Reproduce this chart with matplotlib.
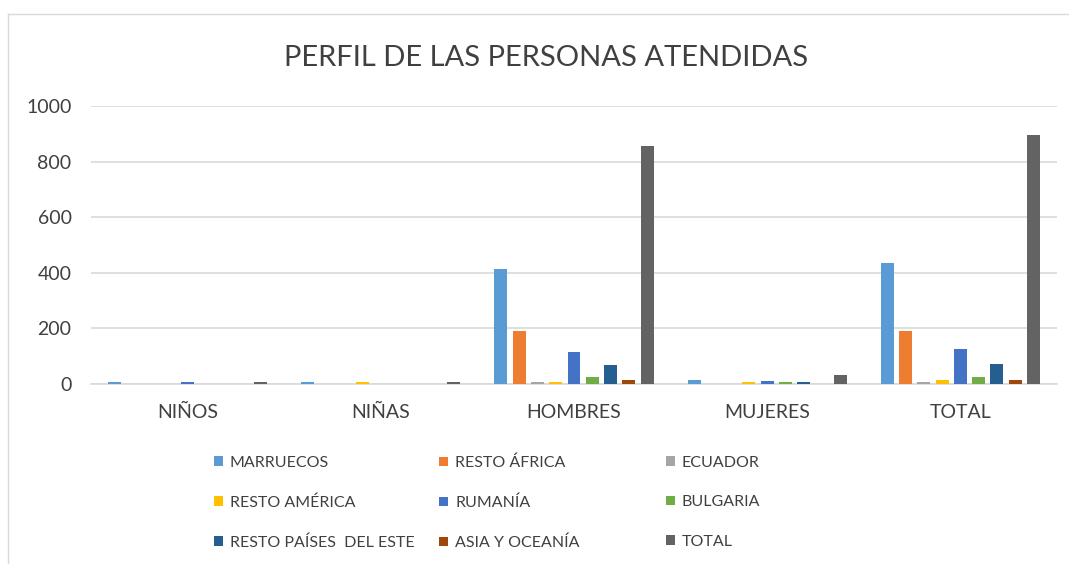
import matplotlib
matplotlib.use('Agg')
import matplotlib.pyplot as plt
from matplotlib.lines import Line2D
import numpy as np

plt.rcParams['font.family'] = ['Lato', 'DejaVu Sans']

categorias = ['NIÑOS', 'NIÑAS', 'HOMBRES', 'MUJERES', 'TOTAL']
series = ['MARRUECOS', 'RESTO ÁFRICA', 'ECUADOR', 'RESTO AMÉRICA', 'RUMANÍA',
          'BULGARIA', 'RESTO PAÍSES  DEL ESTE', 'ASIA Y OCEANÍA', 'TOTAL']

marruecos = [4, 4, 414, 12, 434]
resto_africa = [0, 0, 188, 0, 188]
ecuador = [0, 0, 5, 0, 5]
resto_america = [0, 4, 5, 6, 11]
rumania = [4, 0, 113, 10, 125]
bulgaria = [0, 0, 25, 6, 25]
resto_este = [0, 0, 65, 6, 71]
asia_oceania = [0, 0, 11, 0, 11]
total = [5, 5, 855, 32, 895]

valores = [marruecos, resto_africa, ecuador, resto_america, rumania,
           bulgaria, resto_este, asia_oceania, total]
colores = ['#5B9BD5', '#ED7D31', '#A5A5A5', '#FFC000', '#4472C4',
           '#70AD47', '#255E91', '#9E480E', '#636363']

fig = plt.figure(figsize=(10.69, 5.64), dpi=100)
ax = fig.add_axes([0.0851, 0.320, 0.9037, 0.492])

x = np.arange(len(categorias))
paso = 0.0945
ancho = 0.067
barras = []
for i, (v, c) in enumerate(zip(valores, colores)):
    b = ax.bar(x + (i - 4) * paso, v, ancho, color=c, zorder=3)
    barras.append(b)

ax.set_xlim(-0.5, len(categorias) - 0.5)
ax.set_ylim(0, 1000)
ax.set_yticks([0, 200, 400, 600, 800, 1000])
ax.yaxis.grid(True, color='#D9D9D9', linewidth=1.2, zorder=0)
ax.set_xticks(x)
ax.set_xticklabels(categorias)
ax.tick_params(axis='both', length=0, labelsize=14, labelcolor='#404040')
ax.tick_params(axis='x', pad=15)
ax.tick_params(axis='y', pad=14)
for s in ['top', 'right', 'left']:
    ax.spines[s].set_visible(False)
ax.spines['bottom'].set_color('#D9D9D9')
ax.spines['bottom'].set_linewidth(1.2)

fig.text(0.511, 0.898, 'PERFIL DE LAS PERSONAS ATENDIDAS', ha='center', va='center',
         fontsize=21, color='#404040')

# leyenda: tres columnas colocadas a mano, como en Excel
columnas_x = [0.2002, 0.4107, 0.623]
for col, x0 in enumerate(columnas_x):
    idx = [col, col + 3, col + 6]
    leg = fig.legend([barras[i] for i in idx], [series[i] for i in idx],
                     loc='upper left', bbox_to_anchor=(x0, 0.192),
                     frameon=False, fontsize=11.5, handlelength=0.55, handleheight=0.55,
                     handletextpad=0.45, labelspacing=1.6, borderpad=0,
                     borderaxespad=0)
    for t in leg.get_texts():
        t.set_color('#404040')

# borde exterior del gráfico
fig.add_artist(Line2D([0.0075, 1.0], [0.975, 0.975], color='#D9D9D9', linewidth=1))
fig.add_artist(Line2D([0.0075, 0.0075], [0.0, 0.975], color='#D9D9D9', linewidth=1))

fig.savefig('out.png', dpi=100)
